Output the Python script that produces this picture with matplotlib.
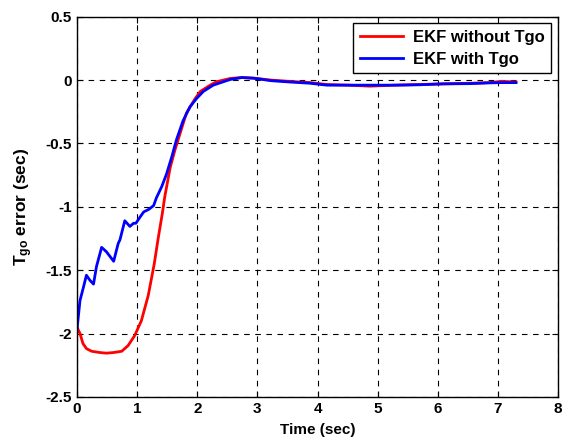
import matplotlib
matplotlib.use("Agg")
from matplotlib import pyplot as plt

plt.rcParams['font.family'] = ['Liberation Sans', 'DejaVu Sans']
plt.rcParams['font.weight'] = 'bold'
plt.rcParams['mathtext.fontset'] = 'custom'
plt.rcParams['mathtext.rm'] = 'Liberation Sans:bold'
plt.rcParams['mathtext.it'] = 'Liberation Sans:bold'
plt.rcParams['mathtext.bf'] = 'Liberation Sans:bold'

# EKF without Tgo (red)
t_red = [0, 0.05, 0.1, 0.16, 0.245, 0.38, 0.49, 0.61, 0.745, 0.85, 0.96, 1.07,
         1.185, 1.245, 1.285, 1.35, 1.42, 1.46, 1.55, 1.63, 1.715, 1.82, 1.96,
         2.05, 2.215, 2.32, 2.55, 2.74, 2.94, 3.23, 3.53, 3.88, 4.155, 4.51,
         4.87, 5.29, 5.70, 6.08, 6.54, 6.86, 7.06, 7.30]
err_red = [-1.95, -2.0, -2.08, -2.12, -2.14, -2.15, -2.155, -2.15, -2.14, -2.095,
           -2.016, -1.90, -1.70, -1.55, -1.45, -1.25, -1.05, -0.92, -0.69, -0.55,
           -0.42, -0.26, -0.15, -0.09, -0.04, -0.013, 0.013, 0.02, 0.015, 0.0,
           -0.01, -0.02, -0.035, -0.04, -0.048, -0.04, -0.035, -0.03, -0.025,
           -0.02, -0.01, -0.015]

# EKF with Tgo (blue)
t_blue = [0, 0.05, 0.11, 0.157, 0.215, 0.275, 0.325, 0.41, 0.49, 0.61, 0.685,
          0.715, 0.795, 0.88, 0.94, 0.98, 1.05, 1.11, 1.195, 1.275, 1.32, 1.41,
          1.49, 1.58, 1.655, 1.765, 1.88, 1.99, 2.10, 2.265, 2.55, 2.74, 2.94,
          3.23, 3.53, 3.88, 4.155, 4.51, 4.87, 5.29, 5.70, 6.08, 6.54, 6.86,
          7.06, 7.30]
err_blue = [-1.97, -1.74, -1.63, -1.54, -1.58, -1.61, -1.47, -1.32, -1.355, -1.43,
            -1.29, -1.26, -1.11, -1.155, -1.13, -1.13, -1.08, -1.04, -1.02, -0.99,
            -0.93, -0.84, -0.74, -0.60, -0.47, -0.32, -0.21, -0.145, -0.09, -0.04,
            0.005, 0.02, 0.015, -0.005, -0.015, -0.025, -0.04, -0.04, -0.04,
            -0.04, -0.037, -0.03, -0.028, -0.022, -0.02, -0.02]

fig = plt.figure(figsize=(5.66, 4.40), dpi=100)
ax = fig.add_axes([0.136, 0.098, 0.850, 0.864])

ax.plot(t_red, err_red, color='red', linewidth=2, label='EKF without Tgo')
ax.plot(t_blue, err_blue, color='blue', linewidth=2, label='EKF with Tgo')

ax.set_xlim(0, 8)
ax.set_ylim(-2.5, 0.5)
ax.set_xticks(range(0, 9))
ax.set_yticks([-2.5, -2, -1.5, -1, -0.5, 0, 0.5])
ax.set_yticklabels(['-2.5', '-2', '-1.5', '-1', '-0.5', '0', '0.5'])
ax.grid(True, color='black', linestyle=(0, (5, 5)), linewidth=0.8)
ax.tick_params(direction='in', top=True, right=True, labelsize=11, length=4)
for s in ax.spines.values():
    s.set_linewidth(1.0)

ax.set_xlabel('Time (sec)', fontsize=11, fontweight='bold', labelpad=5)
ax.set_ylabel('T$_{go}$ error (sec)', fontsize=12.5, fontweight='bold', labelpad=8)

leg = ax.legend(loc='upper right', fontsize=12, fancybox=False, framealpha=1,
                edgecolor='black', handlelength=2.6, borderaxespad=0.4,
                labelspacing=0.4, handletextpad=0.6)
leg.get_frame().set_linewidth(1.0)

fig.savefig('out.png', dpi=100)
